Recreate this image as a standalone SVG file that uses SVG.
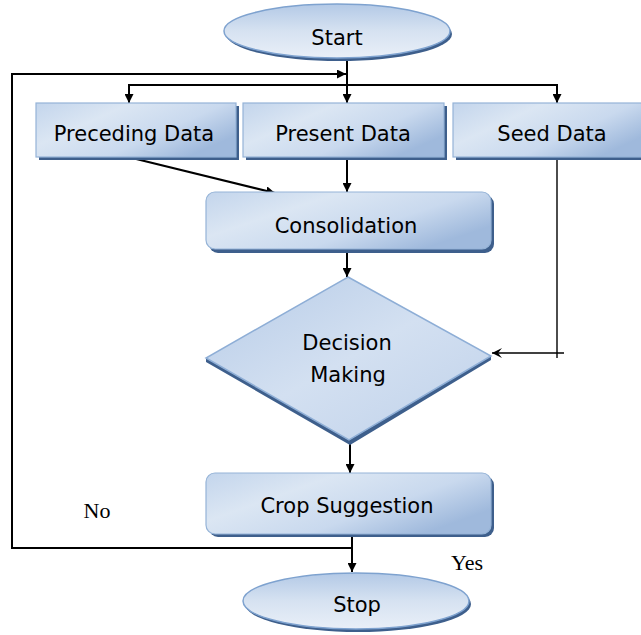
<svg xmlns="http://www.w3.org/2000/svg" width="641" height="635" viewBox="0 0 641 635">
<defs>
  <linearGradient id="boxGrad" x1="0" y1="0" x2="1" y2="0.6">
    <stop offset="0" stop-color="#c3d5ec"/>
    <stop offset="0.35" stop-color="#dbe6f3"/>
    <stop offset="0.7" stop-color="#c9d9ee"/>
    <stop offset="1" stop-color="#9fb9dc"/>
  </linearGradient>
  <linearGradient id="ellGrad" x1="0" y1="0" x2="0" y2="1">
    <stop offset="0" stop-color="#b3c9e6"/>
    <stop offset="0.5" stop-color="#d6e2f1"/>
    <stop offset="1" stop-color="#e9eff8"/>
  </linearGradient>
  <linearGradient id="diaGrad" x1="0" y1="0" x2="1" y2="1">
    <stop offset="0" stop-color="#b6cbe7"/>
    <stop offset="0.5" stop-color="#d3e0f1"/>
    <stop offset="1" stop-color="#bfd1ea"/>
  </linearGradient>
  <marker id="arr" viewBox="0 0 10 10" refX="10" refY="5" markerWidth="9" markerHeight="9" markerUnits="userSpaceOnUse" orient="auto">
    <path d="M0,0 L10,5 L0,10 z" fill="#000"/>
  </marker>
  <marker id="stealth" viewBox="0 0 10 10" refX="10" refY="5" markerWidth="10" markerHeight="10" markerUnits="userSpaceOnUse" orient="auto">
    <path d="M0,0 L10,5 L0,10 L4,5 z" fill="#000"/>
  </marker>
</defs>
<style>
  .shadow { fill: #3e5f8c; }
  .box { fill: url(#boxGrad); stroke: #95b3d7; stroke-width: 1.2; }
  .ell { fill: url(#ellGrad); stroke: #7ea2cf; stroke-width: 1.5; }
  .dia { fill: url(#diaGrad); stroke: #8eaed6; stroke-width: 1.5; }
  .lbl { font-family: "DejaVu Sans", sans-serif; font-size: 21px; fill: #000; text-anchor: middle; }
  .note { font-family: "Liberation Serif", serif; font-size: 22px; fill: #000; text-anchor: middle; }
  .conn { fill: none; stroke: #000; stroke-width: 2; }
  .thin { fill: none; stroke: #000; stroke-width: 1.4; }
</style>

<g id="connectors">
  <line class="conn" x1="347" y1="60" x2="347" y2="103" marker-end="url(#arr)"/>
  <polyline class="conn" points="129,103 129,85 557,85 557,103" />
  <line class="conn" x1="129" y1="90" x2="129" y2="103" marker-end="url(#arr)"/>
  <line class="conn" x1="557" y1="90" x2="557" y2="103" marker-end="url(#arr)"/>
  <polyline class="conn" points="352,548 12,548 12,74 346,74" marker-end="url(#arr)"/>
  <line class="conn" x1="128" y1="157" x2="275" y2="193" marker-end="url(#arr)"/>
  <line class="conn" x1="347" y1="159" x2="347" y2="192" marker-end="url(#arr)"/>
  <line class="conn" x1="347" y1="252" x2="347" y2="277" marker-end="url(#arr)"/>
  <line class="thin" x1="557" y1="160" x2="557" y2="358"/>
  <line class="thin" x1="564" y1="353" x2="492" y2="353" marker-end="url(#stealth)"/>
  <line class="conn" x1="350" y1="441" x2="350" y2="473" marker-end="url(#arr)"/>
  <line class="conn" x1="352" y1="536" x2="352" y2="572" marker-end="url(#arr)"/>
</g>

<g id="start">
  <ellipse class="shadow" cx="339" cy="34" rx="113" ry="27"/>
  <ellipse class="ell" cx="337" cy="31" rx="113" ry="27"/>
  <text class="lbl" x="337" y="45">Start</text>
</g>

<g id="preceding-data">
  <rect class="shadow" x="39" y="106" width="200" height="54"/>
  <rect class="box" x="36" y="103" width="200" height="54"/>
  <text class="lbl" x="134" y="141">Preceding Data</text>
</g>

<g id="present-data">
  <rect class="shadow" x="246" y="106" width="201" height="54"/>
  <rect class="box" x="243" y="103" width="201" height="54"/>
  <text class="lbl" x="343" y="141">Present Data</text>
</g>

<g id="seed-data">
  <rect class="shadow" x="456" y="106" width="190" height="54"/>
  <rect class="box" x="453" y="103" width="192" height="54"/>
  <text class="lbl" x="552" y="141">Seed Data</text>
</g>

<g id="consolidation">
  <rect class="shadow" x="209" y="195" width="285" height="58" rx="9"/>
  <rect class="box" x="206" y="192" width="285" height="57" rx="9"/>
  <text class="lbl" x="346" y="233">Consolidation</text>
</g>

<g id="decision-making">
  <polygon class="shadow" points="206,358 349,440 491,356 491,360 350,445 206,362"/>
  <polygon class="dia" points="348,277 491,356 349,440 206,358"/>
  <text class="lbl" x="347" y="350">Decision</text>
  <text class="lbl" x="348" y="382">Making</text>
</g>

<g id="crop-suggestion">
  <rect class="shadow" x="209" y="476" width="285" height="61" rx="9"/>
  <rect class="box" x="206" y="473" width="285" height="61" rx="9"/>
  <text class="lbl" x="347" y="513">Crop Suggestion</text>
</g>

<g id="stop">
  <ellipse class="shadow" cx="358" cy="604" rx="113" ry="28"/>
  <ellipse class="ell" cx="356" cy="601" rx="113" ry="28"/>
  <text class="lbl" x="357" y="612">Stop</text>
</g>

<g id="labels">
  <text class="note" x="97" y="518">No</text>
  <text class="note" x="467" y="570">Yes</text>
</g>
</svg>
